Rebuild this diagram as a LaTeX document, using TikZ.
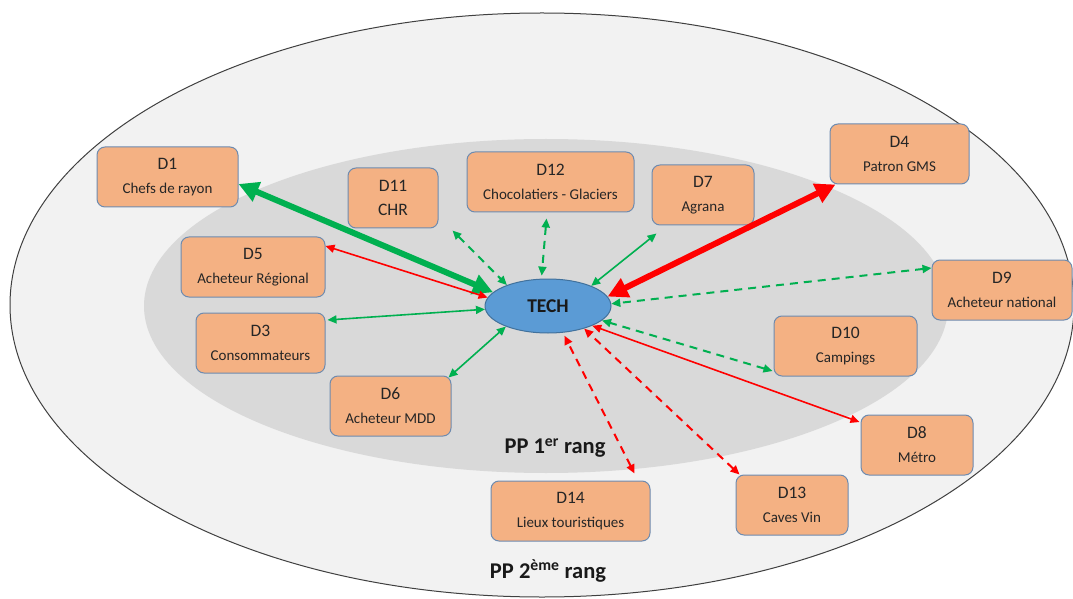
\documentclass[tikz,border=0pt]{standalone}
\usepackage{fontspec}
\setmainfont{Carlito}
\usetikzlibrary{arrows.meta,calc,shapes.geometric}
\definecolor{boxfill}{HTML}{F4B183}
\definecolor{boxline}{HTML}{6D8BB0}
\definecolor{techfill}{HTML}{5B9BD5}
\definecolor{techline}{HTML}{41719C}
\definecolor{outerfill}{HTML}{F2F2F2}
\definecolor{innerfill}{HTML}{D9D9D9}
\definecolor{grn}{HTML}{00B050}
\definecolor{rd}{HTML}{FF0000}
\newcommand{\subtxt}[1]{{\fontsize{15}{17}\selectfont #1}}
\begin{document}
\begin{tikzpicture}[x=1pt,y=1pt,
  box/.style={draw=boxline, fill=boxfill, line width=1pt, rounded corners=8pt,
    inner sep=0pt, minimum height=60pt, align=center,
    font=\fontsize{17.5}{24}\selectfont, text=black!85},
  thinarr/.style={line width=1.6pt, {Triangle[length=9pt,width=8pt]}-{Triangle[length=9pt,width=8pt]}},
  dasharr/.style={thinarr, line width=2pt, dash pattern=on 8pt off 6pt},
  thickarr/.style={line width=6pt, {Triangle[length=20pt,width=20pt]}-{Triangle[length=20pt,width=20pt]}},
  pplabel/.style={font=\bfseries\fontsize{22.5}{26}\selectfont, text=black!90}
]
\useasboundingbox (0,0) rectangle (1073,598);
\fill[white] (0,0) rectangle (1073,598);
% zones
\draw[fill=outerfill, draw=black!75, line width=1pt] (542,293) ellipse [x radius=532, y radius=292];
\fill[innerfill] (546,292) ellipse [x radius=402, y radius=167];

\node[pplabel] (pp1) at (555,150) {PP 1\textsuperscript{er} rang};
\node[pplabel] (pp2) at (548,27) {PP 2\textsuperscript{ème} rang};

% centre
\node[ellipse, draw=techline, line width=1pt, fill=techfill, minimum width=126pt, minimum height=54pt,
  inner sep=0pt, font=\bfseries\fontsize{19.5}{22}\selectfont, text=black!90] (tech) at (548,292) {TECH};

% boxes
\node[box, minimum width=141pt] (d1) at (167.5,421) {D1\\\subtxt{Chefs de rayon}};
\node[box, minimum width=90pt] (d11) at (393,400) {D11\\CHR};
\node[box, minimum width=167pt] (d12) at (550.5,416) {D12\\\subtxt{Chocolatiers - Glaciers}};
\node[box, minimum width=102pt] (d7) at (703,403) {D7\\\subtxt{Agrana}};
\node[box, minimum width=139pt] (d4) at (899.5,444) {D4\\\subtxt{Patron GMS}};
\node[box, minimum width=144pt] (d5) at (253,331) {D5\\\subtxt{Acheteur Régional}};
\node[box, minimum width=140pt] (d9) at (1002,308) {D9\\\subtxt{Acheteur national}};
\node[box, minimum width=129pt] (d3) at (260.5,255) {D3\\\subtxt{Consommateurs}};
\node[box, minimum width=143pt] (d10) at (845.5,252) {D10\\\subtxt{Campings}};
\node[box, minimum width=121pt] (d6) at (390.5,192) {D6\\\subtxt{Acheteur MDD}};
\node[box, minimum width=112pt] (d8) at (917,153) {D8\\\subtxt{Métro}};
\node[box, minimum width=159pt] (d14) at (570.5,87) {D14\\\subtxt{Lieux touristiques}};
\node[box, minimum width=112pt] (d13) at (792,93) {D13\\\subtxt{Caves Vin}};

% connectors
\draw[thickarr, grn] ($(d1.east)+(0,-7)$) -- (tech.166);
\draw[thinarr, rd] ($(d5.east)+(0,21)$) -- (tech.172);
\draw[thinarr, grn] ($(d3.east)+(2,23)$) -- (tech.183);
\draw[thinarr, grn] ($(d6.north east)+(-3,-2)$) -- (tech.206);
\draw[dasharr, grn] ($(d11.south east)+(14,-2)$) -- (tech.153);
\draw[dasharr, grn] ($(d12.south)+(-4,-6)$) -- ($(tech.103)+(0,3)$);
\draw[thinarr, grn] ($(d7.south west)+(5,-8)$) -- (tech.25);
\draw[thickarr, rd] ($(d4.south west)+(6,0)$) -- (tech.9);
\draw[dasharr, grn] ($(d9.west)+(0,22)$) -- (tech.2);
\draw[dasharr, grn] ($(d10.west)+(-1,-25)$) -- (tech.345);
\draw[thinarr, rd] ($(d8.west)+(-1,23)$) -- (tech.336);
\draw[dasharr, rd] ($(d13.north west)+(4,0)$) -- (tech.328);
\draw[dasharr, rd] ($(d14.north east)+(-16,7)$) -- ($(tech.300)+(1,-3)$);
\end{tikzpicture}
\end{document}
